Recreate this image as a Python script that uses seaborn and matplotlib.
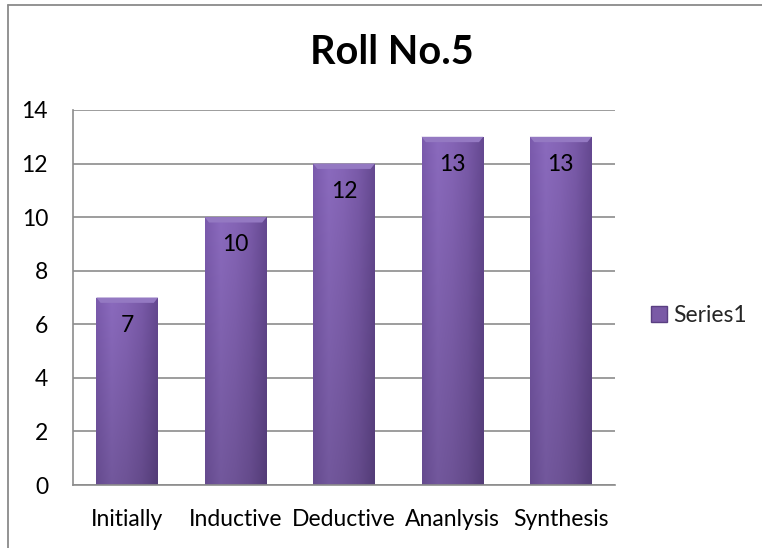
import numpy as np
import pandas as pd
import matplotlib
matplotlib.use("Agg")
import matplotlib.pyplot as plt
import seaborn as sns
from matplotlib.lines import Line2D
from matplotlib.colors import LinearSegmentedColormap

categories = ["Initially", "Inductive", "Deductive", "Ananlysis", "Synthesis"]
values = [7, 10, 12, 13, 13]
series_name = "Series1"
title = "Roll No.5"
yticks = [0, 2, 4, 6, 8, 10, 12, 14]

sns.set_theme(style="white")
plt.rcParams["font.family"] = ["Lato", "DejaVu Sans"]

df = pd.DataFrame({"cat": categories, "val": values})

fig = plt.figure(figsize=(7.62, 5.48), dpi=100)
ax = fig.add_axes([73/762, 1-485/548, (615-73)/762, (485-110)/548])

sns.barplot(data=df, x="cat", y="val", ax=ax, color="#7a5aa6", width=0.57,
            saturation=1, edgecolor="none", label=series_name)

ax.set_ylim(0, 14)
ax.set_yticks(yticks)
ax.set_xlabel("")
ax.set_ylabel("")
ax.grid(axis="y", color="#8c8c8c", linewidth=1.2)
ax.set_axisbelow(True)
for s in ["top", "right"]:
    ax.spines[s].set_visible(False)
for s in ["left", "bottom"]:
    ax.spines[s].set_color("#8c8c8c")
    ax.spines[s].set_linewidth(1.2)
ax.tick_params(axis="y", length=0, pad=18, labelsize=16.5, labelcolor="black")
ax.tick_params(axis="x", length=0, pad=17, labelsize=16.5, labelcolor="black")

# gradient fill for bars
hgrad = np.linspace(0, 1, 64)
cmap_h = LinearSegmentedColormap.from_list(
    "p", ["#7657a6", "#8566b6", "#7f60ae", "#7456a1", "#61468b"])
for p in list(ax.patches):
    x0, y0 = p.get_x(), p.get_y()
    w, h = p.get_width(), p.get_height()
    img = np.tile(hgrad, (32, 1))
    rgb = cmap_h(img)[..., :3]
    vshade = np.linspace(0.86, 1.04, 32)[:, None, None]
    rgb = np.clip(rgb * vshade, 0, 1)
    im = ax.imshow(rgb, extent=[x0, x0 + w, y0, y0 + h], origin="lower",
                   aspect="auto", zorder=p.get_zorder() + 0.1, interpolation="bilinear")
    im.set_clip_path(p)
    bh = 0.2
    ax.fill([x0, x0 + w, x0 + w - w * 0.07, x0 + w * 0.07],
            [y0 + h, y0 + h, y0 + h - bh, y0 + h - bh],
            color="#9479c2", zorder=p.get_zorder() + 0.2, lw=0)

ax.set_xlim(-0.5, len(categories) - 0.5)

for i, v in enumerate(values):
    ax.annotate(str(v), (i, v), xytext=(0, -20), textcoords="offset points",
                ha="center", va="center", fontsize=16.5, color="black", zorder=10)

fig.text(392/762, 1 - 53/548, title, ha="center", va="center",
         fontsize=28.5, fontweight="bold", color="black")

handle = Line2D([], [], marker="s", linestyle="none", markersize=11,
                markerfacecolor="#7a5aa6", markeredgecolor="#5a3f82")
if ax.get_legend() is not None:
    ax.get_legend().remove()
fig.legend([handle], [series_name], loc="center left",
           bbox_to_anchor=(648/762, 1 - 316/548), frameon=False,
           fontsize=16.5, handletextpad=0.1, handlelength=1.0,
           borderpad=0, borderaxespad=0)

# chart outer border
fig.add_artist(Line2D([8/762, 1], [1 - 4.5/548, 1 - 4.5/548],
                      transform=fig.transFigure, color="#8a8a8a", lw=1.3))
fig.add_artist(Line2D([8/762, 8/762], [1 - 4.5/548, 0],
                      transform=fig.transFigure, color="#8a8a8a", lw=1.3))

fig.savefig("out.png", dpi=100)
